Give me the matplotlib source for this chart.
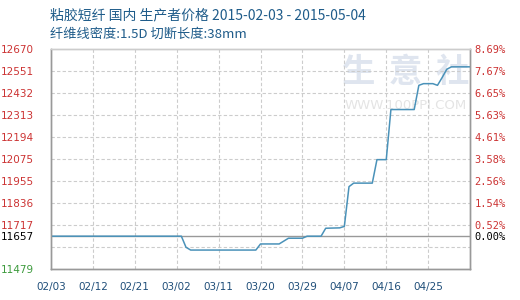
import matplotlib
matplotlib.use("Agg")
from matplotlib import pyplot as plt
import matplotlib.dates as mdates
import pandas as pd
import numpy as np

plt.rcParams['font.family'] = ['Noto Sans CJK SC', 'DejaVu Sans']
plt.rcParams['axes.unicode_minus'] = False

# price series (breakpoints)
dates = ["2015-02-03", "2015-03-03", "2015-03-04", "2015-03-05", "2015-03-19",
         "2015-03-20", "2015-03-24", "2015-03-26", "2015-03-29", "2015-03-30",
         "2015-04-02", "2015-04-03", "2015-04-06", "2015-04-07", "2015-04-08",
         "2015-04-09", "2015-04-13", "2015-04-14", "2015-04-16", "2015-04-17",
         "2015-04-22", "2015-04-23", "2015-04-24", "2015-04-26", "2015-04-27",
         "2015-04-28", "2015-04-29", "2015-04-30", "2015-05-04"]
prices = [11657, 11657, 11597, 11582, 11582,
          11615, 11615, 11646, 11646, 11657,
          11657, 11700, 11702, 11710, 11925,
          11944, 11944, 12071, 12071, 12342,
          12342, 12473, 12482, 12482, 12473,
          12515, 12560, 12573, 12573]

base_price = 11657
y_min, y_max = 11479, 12670
left_labels = ["11479", "", "11717", "11836", "11955", "12075",
               "12194", "12313", "12432", "12551", "12670"]
right_labels = ["", "", "0.52%", "1.54%", "2.56%", "3.58%",
                "4.61%", "5.63%", "6.65%", "7.67%", "8.69%"]
x_ticks = ["2015-02-03", "2015-02-12", "2015-02-21", "2015-03-02", "2015-03-11",
           "2015-03-20", "2015-03-29", "2015-04-07", "2015-04-16", "2015-04-25"]

title = "粘胶短纤 国内 生产者价格 2015-02-03 - 2015-05-04"
subtitle = "纤维线密度:1.5D 切断长度:38mm"

x = pd.to_datetime(dates)
xt = pd.to_datetime(x_ticks)
grid_vals = np.linspace(y_min, y_max, len(left_labels))

fig = plt.figure(figsize=(5.2, 3.0), dpi=100)
ax = fig.add_axes([0.098, 0.103, 0.806, 0.734])

# watermark
for xa, ch in zip([0.733, 0.845, 0.958], "生意社"):
    ax.text(xa, 0.895, ch, transform=ax.transAxes, ha='center', va='center',
            fontsize=24, fontweight='bold', color='#dfe5ef', zorder=0)
ax.text(0.847, 0.745, "WWW.100PPI.COM", transform=ax.transAxes, ha='center',
        va='center', fontsize=9.5, color='#e4e4e4', family='DejaVu Sans', zorder=0)

for v in grid_vals[1:-1]:
    ax.axhline(v, color='#cccccc', lw=0.8, ls=(0, (3, 2)), zorder=1)
for d in xt[1:]:
    ax.axvline(d, color='#cccccc', lw=0.8, ls=(0, (3, 2)), zorder=1)
ax.axhline(base_price, color='#999999', lw=1.0, zorder=2)

ax.plot(x, prices, color='#4a92b9', lw=1.1, zorder=3)

ax.set_xlim(pd.Timestamp("2015-02-03"), pd.Timestamp("2015-05-04"))
ax.set_ylim(y_min, y_max)

ax.set_xticks(xt)
ax.xaxis.set_major_formatter(mdates.DateFormatter('%m/%d'))
ax.tick_params(axis='x', length=0, pad=9, labelsize=7.5, labelcolor='#1f4e79')
for lab in ax.get_xticklabels():
    lab.set_family('DejaVu Sans')

yt = list(grid_vals) + [base_price]
yl = left_labels + [str(base_price)]
ax.set_yticks(yt)
ax.set_yticklabels(yl, family='DejaVu Sans')
ax.tick_params(axis='y', length=0, pad=12, labelsize=7.5)
for lab, v in zip(ax.get_yticklabels(), yt):
    if v == base_price:
        lab.set_color('black')
    elif v == y_min:
        lab.set_color('#3c9a3c')
    else:
        lab.set_color('#cc3333')

ax2 = ax.twinx()
ax2.set_ylim(y_min, y_max)
ax2.set_yticks(yt)
ax2.set_yticklabels(right_labels + ["0.00%"], family='DejaVu Sans Mono')
ax2.tick_params(axis='y', length=0, pad=3, labelsize=7.5)
for lab, v in zip(ax2.get_yticklabels(), yt):
    lab.set_color('black' if v == base_price else '#cc3333')

for a in (ax, ax2):
    for s in a.spines.values():
        s.set_color('#999999')
        s.set_linewidth(1.0)
    a.spines['top'].set_color('#cccccc')

fig.text(0.096, 0.948, title, fontsize=10, color='#1f5c8a', va='center', ha='left')
fig.text(0.096, 0.885, subtitle, fontsize=9.5, color='#1f5c8a', va='center', ha='left')

fig.savefig("out.png", dpi=100)
